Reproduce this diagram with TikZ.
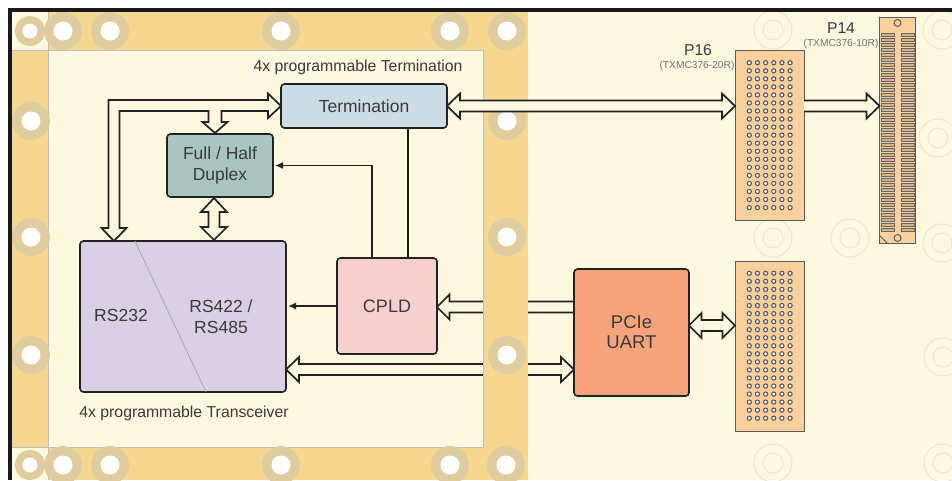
\documentclass[tikz,border=0pt]{standalone}
\usepackage{fontspec}
\setmainfont{Liberation Sans}
\usetikzlibrary{calc,arrows.meta}
\definecolor{boardc}{HTML}{FCF9E0}
\definecolor{bandc}{HTML}{F6D78F}
\definecolor{ringc}{HTML}{E0CD9F}
\definecolor{fringc}{HTML}{EBE8CF}
\definecolor{txtc}{HTML}{3A3A3A}
\definecolor{linec}{HTML}{222222}
\definecolor{connc}{HTML}{FDD09F}
\pgfdeclarelayer{boardl}
\pgfdeclarelayer{lowbus}
\pgfdeclarelayer{bandl}
\pgfsetlayers{boardl,lowbus,bandl,main}
\tikzset{
  blockbox/.style={draw=linec,line width=1.6pt,rounded corners=3.5pt,inner sep=0pt,outer sep=0pt,text=txtc,align=center,font=\fontsize{17.5}{21}\selectfont,anchor=north west},
  connbox/.style={draw=black!65,line width=1pt,fill=connc,inner sep=0pt,outer sep=0pt,anchor=north west},
  caption/.style={text=txtc,inner sep=0pt,font=\fontsize{15.8}{18}\selectfont},
  ptitle/.style={text=txtc,inner sep=0pt,font=\fontsize{15.7}{18}\selectfont},
  psub/.style={text=black!55,inner sep=0pt,font=\fontsize{10.2}{12}\selectfont},
  bus/.style={draw=linec,line width=1.7pt,fill=boardc,line join=miter},
  sigline/.style={draw=linec,line width=1.4pt},
  sigarrow/.style={sigline,-{Latex[length=8pt,width=7pt]},shorten >=2pt},
  pindot/.style={draw=black!65,line width=1.1pt,fill=white},
  slotbox/.style={draw=black!60,line width=0.9pt,fill=connc!85!black},
}
\newcommand{\hole}[3]{\fill[ringc] (#1,#2) circle (#3);\fill[white] (#1,#2) circle ({#3*0.5});}
\newcommand{\fring}[2]{\draw[fringc,line width=1pt] (#1,#2) circle (19) (#1,#2) circle (10);}
\newcommand{\busH}[2]{\draw[bus] (#1) -- ++(13,-12.5) -- ++(0,7) -- ($(#2)+(-13,-5.5)$) -- ++(0,-7) -- (#2) -- ++(-13,12.5) -- ++(0,-7) -- ($(#1)+(13,5.5)$) -- ++(0,7) -- cycle;}
\newcommand{\busV}[2]{\draw[bus] (#1) -- ++(-13,14) -- ++(7.5,0) -- ($(#2)+(-5.5,-13)$) -- ++(-7.5,0) -- (#2) -- ++(13,-13) -- ++(-7.5,0) -- ($(#1)+(5.5,14)$) -- ++(7.5,0) -- cycle;}
\newcommand{\pinfield}[2]{\foreach \i in {0,...,5}{\foreach \j in {0,...,18}{\filldraw[pindot] ($(#1,#2)+(8.15*\i,8.05*\j)$) circle (2.1);}}}
\begin{document}
\begin{tikzpicture}[x=1pt,y=-1pt]
\useasboundingbox (0,0) rectangle (952,480);
\begin{pgfonlayer}{boardl}
\fill[white] (0,0) rectangle (952,480);
\fill[boardc] (10,10) rectangle (952,480);
\foreach \a/\b in {773/30,942/30,938/138,773/238,850/238,942/243,943/357,773/463,943/463}{\fring{\a}{\b}}
\end{pgfonlayer}
\begin{pgfonlayer}{bandl}
\fill[bandc] (48,12) rectangle (528,50);
\fill[bandc] (48,447) rectangle (528,480);
\fill[bandc] (12,50) rectangle (48,447);
\fill[bandc] (483,50) rectangle (528,447);
\draw[black!25,line width=0.7pt] (48,12) -- (48,480) (12,50) -- (48,50) (12,447) -- (48,447) (48,50) -- (483,50) -- (483,447) -- (48,447);
\hole{30}{31}{15}\hole{63}{31}{19}\hole{110}{31}{19}\hole{281}{31}{19}\hole{450}{31}{19}\hole{507}{31}{19}
\hole{31}{121}{19}\hole{31}{237}{19}\hole{31}{355}{19}
\hole{507}{121}{19}\hole{507}{237}{19}\hole{507}{355}{19}
\hole{30}{465}{15}\hole{63}{465}{19}\hole{110}{465}{19}\hole{281}{465}{19}\hole{450}{465}{19}\hole{506}{465}{19}
\fill[black!90] (8,8) rectangle (952,12);
\fill[black!90] (8,8) rectangle (12,480);
\end{pgfonlayer}
% blocks
\node[blockbox,fill={rgb,255:red,205;green,221;blue,230},minimum width=166pt,minimum height=44pt] (term) at (281,84) {Termination};
\node[blockbox,fill={rgb,255:red,169;green,197;blue,191},minimum width=106pt,minimum height=63pt] (duplex) at (167,134) {Full / Half\\[-0.5pt]Duplex};
\node[blockbox,fill={rgb,255:red,217;green,208;blue,230},minimum width=206pt,minimum height=151pt] (trans) at (80,241) {};
\node[blockbox,fill={rgb,255:red,249;green,208;blue,208},minimum width=100pt,minimum height=96pt,font=\fontsize{18}{21}\selectfont] (cpld) at (337,258) {CPLD};
\node[blockbox,fill={rgb,255:red,247;green,164;blue,124},minimum width=115pt,minimum height=127pt,font=\fontsize{18.5}{20}\selectfont] (pcie) at (574,269) {PCIe\\UART};
\node[connbox,minimum width=69pt,minimum height=170pt] (p16) at (735,50) {};
\node[connbox,minimum width=69pt,minimum height=170pt] (p16b) at (735,261) {};
\node[connbox,minimum width=36pt,minimum height=226pt] (p14) at (879.5,17.5) {};
% transceiver inside
\draw[black!35,line width=0.7pt] ($(trans.north west)+(55,0)$) -- ($(trans.south west)+(126,0)$);
\node[blockbox,draw=none,fill=none,anchor=center] (rsa) at (121,315) {RS232};
\node[blockbox,draw=none,fill=none,anchor=center] (rsb) at (221,317) {RS422 /\\RS485};
% captions
\node[caption] (captop) at (358,67) {4x programmable Termination};
\node[caption] (capbot) at (184,413) {4x programmable Transceiver};
\node[ptitle] (p16t) at (698,50) {P16};
\node[psub] (p16s) at (697,66) {(TXMC376-20R)};
\node[ptitle] (p14t) at (841,28) {P14};
\node[psub] (p14s) at (841,44) {(TXMC376-10R)};
% pin fields
\pinfield{749.3}{62.7}
\pinfield{749.3}{273.3}
% P14 slots
\foreach \j in {0,...,39}{
  \draw[slotbox] ($(p14.north west)+(1.5,15.5+5*\j)$) rectangle ++(13,3.2);
  \draw[slotbox] ($(p14.north west)+(21.5,15.5+5*\j)$) rectangle ++(13,3.2);
}
\draw[black!65,line width=1pt,fill=connc] ($(p14.north)+(0,5.5)$) circle (3.5);
\draw[black!65,line width=1pt,fill=connc] ($(p14.south)+(0,-5.5)$) circle (3.5);
\draw[black!65,line width=0.8pt] ($(p14.south west)+(0,-8)$) -- ($(p14.south west)+(8,0)$);
% signals
\draw[sigline] ($(term.south west)+(127,0)$) -- ($(cpld.north west)+(71,0)$);
\draw[sigarrow] ($(cpld.north west)+(35,0)$) |- (duplex.east);
\draw[sigarrow] (cpld.west) -- (cpld.west -| trans.east);
% buses
\coordinate (ttip) at (term.west);
\coordinate (ttrans) at ($(trans.north west)+(34,0)$);
\coordinate (tdup) at ($(duplex.north west)+(48,-1)$);
\draw[bus] (ttip) -- ++(-13,-12.5) -- ++(0,6.5) -- ++(-159.5,0) -- ($(ttrans)+(-5.5,-13)$) -- ++(-7,0) -- (ttrans) -- ++(12.5,-13) -- ++(-7,0) -- ($(ttip)+(-161.5,5)$) -- ($(tdup)+(-6.5,-22)$) -- ($(tdup)+(-6.5,-11)$) -- ++(-6,0) -- (tdup) -- ++(12.5,-11) -- ++(-6,0) -- ++(0,-11) -- ($(ttip)+(-13,5)$) -- ++(0,7) -- cycle;
\coordinate (dtop) at ($(duplex.south west)+(47,1)$);
\coordinate (dbot) at ($(trans.north west)+(134,-1)$);
\busV{dtop}{dbot}
\coordinate (p16tip) at (term.east -| p16.west);
\busH{term.east}{p16tip}
\coordinate (p14tip) at (term.east -| p14.west);
\coordinate (p16out) at (term.east -| p16.east);
\draw[bus] ($(p16out)+(0,-5.5)$) -- ($(p14tip)+(-13,-5.5)$) -- ++(0,-7) -- (p14tip) -- ++(-13,12.5) -- ++(0,-7) -- ($(p16out)+(0,5.5)$);
\coordinate (ptip) at ($(pcie.east)+(0,-7)$);
\coordinate (cbtip) at (ptip -| p16b.west);
\draw[bus] (ptip) -- ++(12.5,-12.5) -- ++(0,7) -- ($(cbtip)+(-12.5,-5.5)$) -- ++(0,-7) -- (cbtip) -- ++(-12.5,12.5) -- ++(0,-7) -- ($(ptip)+(12.5,5.5)$) -- ++(0,7) -- cycle;
\begin{pgfonlayer}{lowbus}
\coordinate (cptip) at ($(cpld.east)+(0,1)$);
\coordinate (cpend) at (cptip -| pcie.west);
\draw[bus] (cptip) -- ++(12.5,-12.5) -- ++(0,7) -- ($(cpend)+(0,-5.5)$) -- ($(cpend)+(0,5.5)$) -- ($(cptip)+(12.5,5.5)$) -- ++(0,7) -- cycle;
\coordinate (trtip) at ($(trans.east)+(0,53)$);
\coordinate (pctip) at (trtip -| pcie.west);
\busH{trtip}{pctip}
\end{pgfonlayer}
\end{tikzpicture}
\end{document}
